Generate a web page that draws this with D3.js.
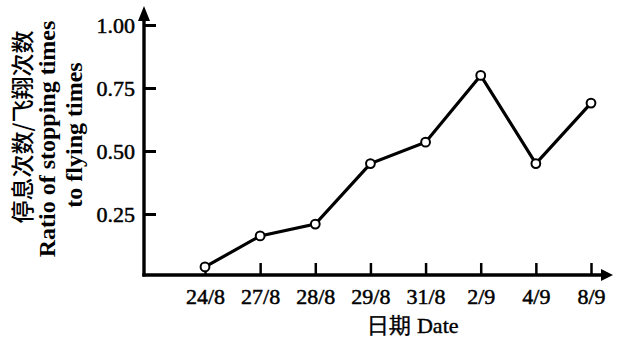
<!DOCTYPE html>
<html>
<head>
<meta charset="utf-8">
<script src="https://cdn.jsdelivr.net/npm/d3@7"></script>
<style>
  html, body { margin: 0; padding: 0; background: #fff; }
  svg { display: block; }
  text { font-family: "Liberation Serif", "Times New Roman", serif; fill: #000; }
</style>
</head>
<body>
<svg id="chart" width="617" height="338"></svg>
<script>
const categories = ["24/8", "27/8", "28/8", "29/8", "31/8", "2/9", "4/9", "8/9"];
const ratios = [0.04, 0.163, 0.21, 0.45, 0.535, 0.80, 0.45, 0.69];
const yTicks = [0.25, 0.50, 0.75, 1.00];
const yTickLabels = ["0.25", "0.50", "0.75", "1.00"];
const yTitleLines = ["停息次数/飞翔次数", "Ratio of stopping times", "to flying times"];
const xTitle = "日期 Date";

const svg = d3.select("#chart");
const axisX = 144, axisY = 275;

const x = d3.scalePoint().domain(categories).range([205, 591]);
const y = d3.scaleLinear().domain([0, 1]).range([277, 25]);

const serif = '"Liberation Serif", serif';

// Y axis
const yAxis = d3.axisLeft(y)
  .tickValues(yTicks)
  .tickFormat((d, i) => yTickLabels[i])
  .tickSizeInner(-12)
  .tickSizeOuter(0)
  .tickPadding(9);
const gy = svg.append("g").attr("transform", `translate(${axisX},0)`).call(yAxis);
gy.select(".domain").remove();
gy.selectAll(".tick line").attr("stroke", "#000").attr("stroke-width", 3);
gy.selectAll(".tick text")
  .style("font-family", serif)
  .style("font-size", "22px")
  .attr("fill", "#000").attr("stroke", "#000").attr("stroke-width", 0.5);

// X axis
const xAxis = d3.axisBottom(x)
  .tickSizeInner(-12)
  .tickSizeOuter(0)
  .tickPadding(13);
const gx = svg.append("g").attr("transform", `translate(0,${axisY})`).call(xAxis);
gx.select(".domain").remove();
gx.selectAll(".tick line").attr("stroke", "#000").attr("stroke-width", 2.5);
gx.selectAll(".tick text")
  .style("font-family", serif)
  .style("font-size", "22px")
  .attr("fill", "#000").attr("stroke", "#000").attr("stroke-width", 0.5);

// Axis lines with arrows
svg.append("line").attr("x1", axisX).attr("y1", axisY + 1.5).attr("x2", axisX).attr("y2", 18)
  .attr("stroke", "#000").attr("stroke-width", 3.4);
svg.append("path").attr("d", `M${axisX - 6},21 L${axisX},6 L${axisX + 6},21 Z`).attr("fill", "#000");
svg.append("line").attr("x1", axisX - 1.7).attr("y1", axisY).attr("x2", 604).attr("y2", axisY)
  .attr("stroke", "#000").attr("stroke-width", 3.4);
svg.append("path").attr("d", `M601,${axisY - 6} L613,${axisY} L601,${axisY + 6} Z`).attr("fill", "#000");

// Line
const line = d3.line().x((d, i) => x(categories[i])).y(d => y(d));
svg.append("path").datum(ratios).attr("d", line)
  .attr("fill", "none").attr("stroke", "#000").attr("stroke-width", 3.2);
svg.selectAll("circle.pt").data(ratios).join("circle").attr("class", "pt")
  .attr("cx", (d, i) => x(categories[i])).attr("cy", d => y(d)).attr("r", 4.4)
  .attr("fill", "#fff").attr("stroke", "#000").attr("stroke-width", 2);

// Y title (three rotated lines)
const titleLayout = [
  { bx: 30.5, cy: 127, font: '"Noto Sans CJK SC", sans-serif', size: 23, weight: 500 },
  { bx: 55, cy: 139, font: serif, size: 24, weight: "bold" },
  { bx: 81.5, cy: 135, font: serif, size: 24, weight: "bold" }
];
yTitleLines.forEach((t, i) => {
  const L = titleLayout[i];
  svg.append("text")
    .attr("transform", `translate(${L.bx},${L.cy}) rotate(-90)`)
    .attr("text-anchor", "middle")
    .style("font-family", L.font)
    .style("font-size", L.size + "px")
    .style("font-weight", L.weight)
    .text(t);
});

// X title
svg.append("text").attr("x", 413).attr("y", 333).attr("text-anchor", "middle")
  .style("font-size", "22px")
  .attr("stroke", "#000").attr("stroke-width", 0.4)
  .text(xTitle);
</script>
</body>
</html>
